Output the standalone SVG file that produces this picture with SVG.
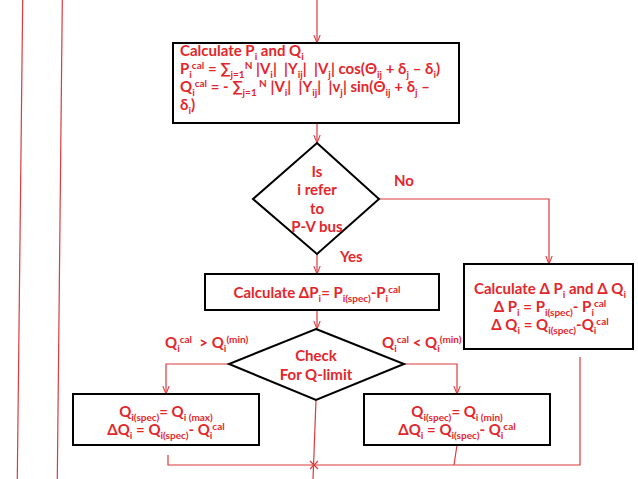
<svg xmlns="http://www.w3.org/2000/svg" width="638" height="479" viewBox="0 0 638 479">
<style>
.box{fill:#fff;stroke:#000;stroke-width:2}
.t{font-family:Lato,"Open Sans","Liberation Sans",sans-serif;font-weight:bold;font-size:15px;fill:#e3262b;white-space:pre}
.c{text-anchor:middle}
.s{font-size:10px;baseline-shift:-3.5px}
.p{font-size:10px;baseline-shift:5.5px}
.ln{fill:none;stroke:#dc3a3e;stroke-width:1.2}
.ar{marker-end:url(#ah)}
</style>
<defs>
<marker id="ah" viewBox="0 0 10 10" refX="10" refY="5" markerWidth="8" markerHeight="8" markerUnits="userSpaceOnUse" orient="auto">
<path d="M0,1 L10,5 L0,9" fill="none" stroke="#dc3a3e" stroke-width="1.3"/>
</marker>
</defs>
<rect width="638" height="479" fill="#fff"/>
<g id="connectors">
<line class="ln" x1="22.7" y1="0" x2="17.3" y2="479" stroke-width="0.9"/>
<line class="ln" x1="62.3" y1="0" x2="57.3" y2="479" stroke-width="0.9"/>
<line class="ln ar" x1="317" y1="0" x2="317" y2="43"/>
<line class="ln ar" x1="317" y1="123" x2="317" y2="143"/>
<polyline class="ln ar" points="379,199 549,199 549,264"/>
<line class="ln ar" x1="317" y1="254" x2="317" y2="274"/>
<line class="ln ar" x1="317" y1="310" x2="317" y2="329"/>
<polyline class="ln ar" points="229,364 166,364 166,394"/>
<polyline class="ln ar" points="404,364 457,364 457,394"/>
<polyline class="ln" points="168,455 168,465 580,465 580,357"/>
<line class="ln" x1="457" y1="445" x2="454" y2="465"/>
<line class="ln" x1="316" y1="400" x2="313" y2="479"/>
<path class="ln" d="M310,461 L318,469 M318,461 L310,469"/>
</g>
<g id="calc-pq">
<rect class="box" x="173" y="43" width="286" height="80"/>
<text class="t" x="180" y="56">Calculate P<tspan class="s">i</tspan> and Q<tspan class="s">i</tspan></text>
<text class="t" x="180" y="74">P<tspan class="s">i</tspan><tspan class="p">cal</tspan> = ∑<tspan class="s">j=1</tspan><tspan class="p">N</tspan> |V<tspan class="s">i</tspan>|  |Y<tspan class="s">ij</tspan>|  |V<tspan class="s">j</tspan>| cos(Θ<tspan class="s">ij</tspan> + δ<tspan class="s">j</tspan> – δ<tspan class="s">i</tspan>)</text>
<text class="t" x="180" y="92">Q<tspan class="s">i</tspan><tspan class="p">cal</tspan> = - ∑<tspan class="s">j=1</tspan><tspan class="p"> N</tspan> |V<tspan class="s">i</tspan>|  |Y<tspan class="s">ij</tspan>|  |v<tspan class="s">j</tspan>| sin(Θ<tspan class="s">ij</tspan> + δ<tspan class="s">j</tspan> –</text>
<text class="t" x="180" y="110">δ<tspan class="s">i</tspan>)</text>
</g>
<g id="pv-check">
<polygon class="box" points="317,143 379,199 317,254 253,199"/>
<text class="t c" x="317" y="177">Is</text>
<text class="t c" x="317" y="195">i refer</text>
<text class="t c" x="317" y="214">to</text>
<text class="t c" x="317" y="232">P-V bus</text>
<text class="t" x="394" y="186">No</text>
<text class="t" x="340" y="262">Yes</text>
</g>
<g id="calc-dp">
<rect class="box" x="205" y="274" width="234" height="36"/>
<text class="t c" x="317" y="298">Calculate ΔP<tspan class="s">i</tspan>= P<tspan class="s">i(spec)</tspan>-P<tspan class="s">i</tspan><tspan class="p">cal</tspan></text>
</g>
<g id="calc-dpdq">
<rect class="box" x="464" y="264" width="169" height="85"/>
<text class="t c" x="550" y="294">Calculate Δ P<tspan class="s">i</tspan> and Δ Q<tspan class="s">i</tspan></text>
<text class="t c" x="550" y="312">Δ P<tspan class="s">i</tspan> = P<tspan class="s">i(spec)</tspan>- P<tspan class="s">i</tspan><tspan class="p">cal</tspan></text>
<text class="t c" x="550" y="330">Δ Q<tspan class="s">i</tspan> = Q<tspan class="s">i(spec)</tspan>-Q<tspan class="s">i</tspan><tspan class="p">cal</tspan></text>
</g>
<g id="q-limit">
<polygon class="box" points="316,329 404,364 316,400 229,364"/>
<text class="t c" x="316" y="361">Check</text>
<text class="t c" x="316" y="380">For Q-limit</text>
<text class="t" x="165" y="348">Q<tspan class="s">i</tspan><tspan class="p">cal</tspan>  &gt; Q<tspan class="s">i</tspan><tspan class="p">(min)</tspan></text>
<text class="t" x="382" y="348">Q<tspan class="s">i</tspan><tspan class="p">cal</tspan> &lt; Q<tspan class="s">i</tspan><tspan class="p">(min)</tspan></text>
</g>
<g id="q-max">
<rect class="box" x="73" y="394" width="186" height="51"/>
<text class="t c" x="166" y="417">Q<tspan class="s">i(spec)</tspan>= Q<tspan class="s">i (max)</tspan></text>
<text class="t c" x="166" y="435">ΔQ<tspan class="s">i</tspan> = Q<tspan class="s">i(spec)</tspan>- Q<tspan class="s">i</tspan><tspan class="p">cal</tspan></text>
</g>
<g id="q-min">
<rect class="box" x="364" y="394" width="186" height="51"/>
<text class="t c" x="457" y="417">Q<tspan class="s">i(spec)</tspan>= Q<tspan class="s">i (min)</tspan></text>
<text class="t c" x="457" y="435">ΔQ<tspan class="s">i</tspan> = Q<tspan class="s">i(spec)</tspan>- Q<tspan class="s">i</tspan><tspan class="p">cal</tspan></text>
</g>
</svg>
